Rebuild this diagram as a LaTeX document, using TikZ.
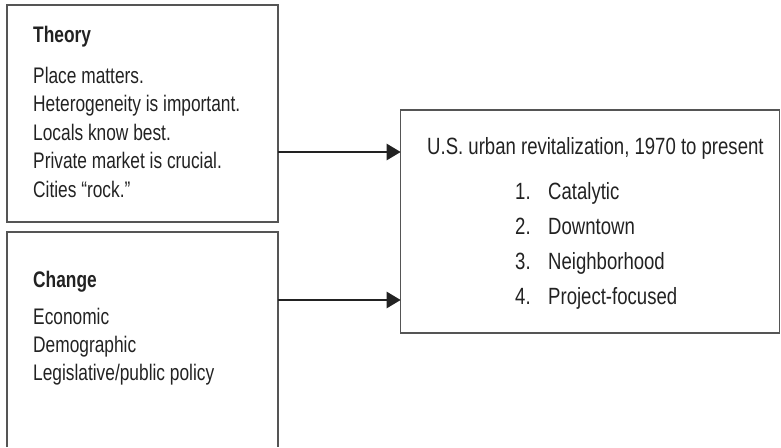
\documentclass[tikz,border=0pt]{standalone}
\usepackage{fontspec}
\setmainfont{Liberation Sans}[FakeStretch=0.77]
\newfontfamily\rfont{Liberation Sans}[FakeStretch=0.79]
\usetikzlibrary{arrows.meta}
\definecolor{ink}{HTML}{222222}
\definecolor{edge}{HTML}{555555}
\begin{document}
\begin{tikzpicture}[x=1pt,y=-1pt,
  frame/.style={rectangle,anchor=north west,inner sep=0pt,outer sep=0pt},
  boxline/.style={draw=edge,line width=1.3pt},
  lbl/.style={anchor=base west,inner sep=0pt,text=ink,font=\fontsize{22.5}{26}\selectfont},
  ttl/.style={lbl,font=\fontsize{22.5}{26}\selectfont\bfseries},
  rlbl/.style={lbl,font=\rfont\fontsize{23.5}{27}\selectfont},
  arr/.style={draw=ink,line width=2.6pt,-{Triangle[length=14pt,width=16pt]}}
]
\useasboundingbox (0,0) rectangle (781,447);
% boxes
\node[frame,boxline,minimum width=271pt,minimum height=217pt] (theory) at (7,5) {};
\node[frame,minimum width=271pt,minimum height=215pt] (change) at (7,232) {};
\draw[boxline] (change.south west) -- (change.north west) -- (change.north east) -- (change.south east);
\node[frame,boxline,minimum width=379pt,minimum height=223pt] (rbox) at (400.7,110) {};
% theory text
\node[ttl] (t0) at (33,42) {Theory};
\node[lbl] (t1) at (33,83) {Place matters.};
\node[lbl] (t2) at (33,111.5) {Heterogeneity is important.};
\node[lbl] (t3) at (33,140) {Locals know best.};
\node[lbl] (t4) at (33,168.5) {Private market is crucial.};
\node[lbl] (t5) at (33,197) {Cities “rock.”};
% change text
\node[ttl] (c0) at (33,287) {Change};
\node[lbl] (c1) at (33,324) {Economic};
\node[lbl] (c2) at (33,352) {Demographic};
\node[lbl] (c3) at (33,380) {Legislative/public policy};
% right text
\node[rlbl] (r0) at (427,154) {U.S. urban revitalization, 1970 to present};
\node[rlbl] (n1) at (515,199) {1.};
\node[rlbl] (r1) at (548,199) {Catalytic};
\node[rlbl] (n2) at (515,234) {2.};
\node[rlbl] (r2) at (548,234) {Downtown};
\node[rlbl] (n3) at (515,269) {3.};
\node[rlbl] (r3) at (548,269) {Neighborhood};
\node[rlbl] (n4) at (515,304) {4.};
\node[rlbl] (r4) at (548,304) {Project-focused};
% arrows
\coordinate (a1) at (0,152);
\coordinate (a2) at (0,300);
\draw[arr] (theory.east |- a1) -- (rbox.west |- a1);
\draw[arr] (change.east |- a2) -- (rbox.west |- a2);
\end{tikzpicture}
\end{document}
